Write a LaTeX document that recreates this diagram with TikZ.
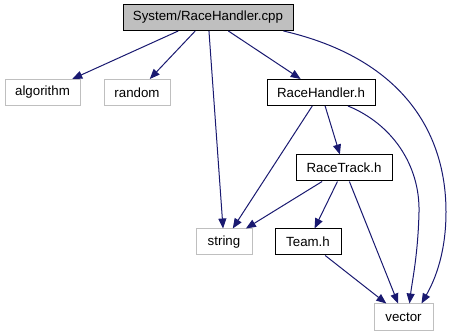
\documentclass[tikz,border=0pt]{standalone}
\usepackage{fontspec}
\setmainfont{Liberation Sans}
\usetikzlibrary{arrows.meta}
\definecolor{edgeblue}{RGB}{25,25,112}
\definecolor{boxgrey}{RGB}{191,191,191}
\begin{document}
\begin{tikzpicture}[x=1pt, y=-1pt,
    every node/.style={font=\fontsize{13.3}{16}\selectfont, inner sep=0pt, minimum height=26pt},
    hdr/.style={draw=black, line width=1pt},
    sys/.style={draw=boxgrey, line width=1pt},
    dep/.style={draw=edgeblue, line width=1pt, -{Triangle[length=10pt,width=8pt]}}]
  \useasboundingbox (0,0) rectangle (452,336);
  \node[hdr, fill=boxgrey, minimum width=170pt] (cpp) at (208,17.5) {System/RaceHandler.cpp};
  \node[sys, minimum width=75pt] (algorithm) at (42.5,92.5) {algorithm};
  \node[sys, minimum width=66pt] (random) at (137,92.5) {random};
  \node[hdr, minimum width=108pt] (handler) at (321,92.5) {RaceHandler.h};
  \node[hdr, minimum width=96pt] (track) at (344,168) {RaceTrack.h};
  \node[sys, minimum width=56pt] (string) at (224,242) {string};
  \node[hdr, minimum width=66pt] (team) at (308,242) {Team.h};
  \node[sys, minimum width=59pt] (vector) at (403.5,317) {vector};
  \draw[dep] (cpp) -- (algorithm);
  \draw[dep] (cpp) -- (random);
  \draw[dep] (cpp) -- (string);
  \draw[dep] (cpp) -- (handler);
  \draw[dep] ([xshift=-10pt]cpp.south east) .. controls (400,58) and (446,130) .. (446,212)
    .. controls (446,258) and (432,285) .. ([xshift=18pt]vector.north);
  \draw[dep] (handler) -- (string);
  \draw[dep] (handler) -- (track);
  \draw[dep] ([xshift=27pt]handler.south) .. controls (392,124) and (420,165) .. (419,212)
    .. controls (418,255) and (412,282) .. ([xshift=6pt]vector.north);
  \draw[dep] (track) -- (string);
  \draw[dep] (track) -- (team);
  \draw[dep] (track) -- (vector);
  \draw[dep] (team) -- (vector);
\end{tikzpicture}
\end{document}
